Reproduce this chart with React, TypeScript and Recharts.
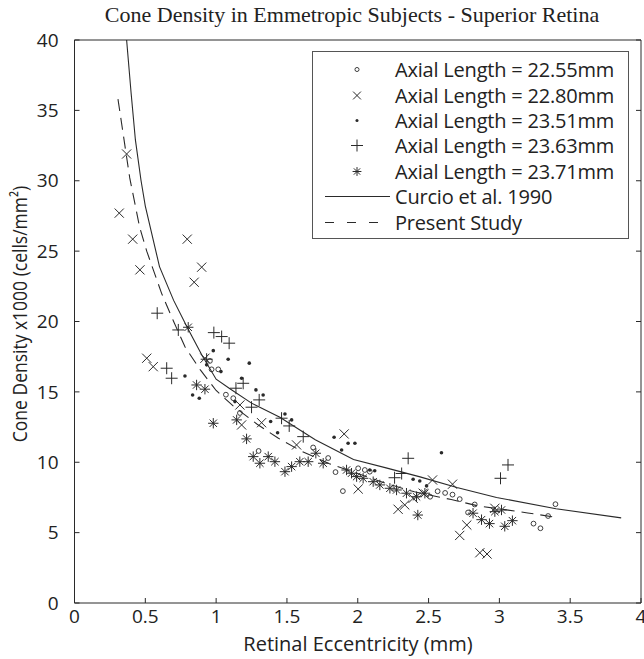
import React from 'react';
import { ScatterChart, Scatter, XAxis, YAxis, Legend } from 'recharts';

// --- data (eccentricity mm, density x1000 cells/mm²) ---
const xTicks = [0, 0.5, 1, 1.5, 2, 2.5, 3, 3.5, 4];
const yTicks = [0, 5, 10, 15, 20, 25, 30, 35, 40];

const axial2255: [number, number][] = [
  [0.956, 17.2], [0.968, 16.6], [1.015, 16.6], [1.069, 14.8], [1.121, 14.55], [1.168, 13.5],
  [1.3, 10.8], [1.685, 11.05], [1.791, 10.3], [1.843, 9.3], [1.895, 7.95], [2.003, 9.57],
  [2.05, 9.45], [2.085, 9.33], [2.511, 7.55], [2.564, 7.94], [2.617, 7.82], [2.669, 7.7],
  [2.72, 7.38], [2.779, 6.43], [2.826, 7.0], [3.241, 5.64], [3.29, 5.31], [3.344, 6.18], [3.396, 7.02],
];

const axial2280: [number, number][] = [
  [0.316, 27.7], [0.368, 31.9], [0.411, 25.85], [0.462, 23.67], [0.51, 17.39], [0.556, 16.79],
  [0.796, 25.85], [0.845, 22.79], [0.898, 23.86], [0.921, 17.39], [1.168, 14.07], [1.18, 12.65],
  [1.321, 12.81], [1.568, 11.23], [1.904, 12.01], [2.003, 8.1], [2.285, 6.66], [2.332, 6.97],
  [2.391, 7.44], [2.462, 7.8], [2.528, 8.74], [2.669, 8.44], [2.72, 4.8], [2.77, 5.54],
  [2.862, 3.57], [2.913, 3.48], [2.968, 6.73],
];

const axial2351: [number, number][] = [
  [0.78, 16.13], [0.834, 14.78], [0.881, 14.55], [0.933, 16.92], [0.98, 17.93], [1.034, 16.44],
  [1.085, 17.32], [1.133, 14.31], [1.18, 15.97], [1.234, 17.04], [1.281, 15.14], [1.332, 14.78],
  [1.385, 12.89], [1.434, 12.1], [1.486, 13.43], [1.533, 13.01], [1.833, 11.78], [1.886, 10.87],
  [1.932, 11.35], [1.98, 11.35], [2.085, 9.45], [2.12, 9.4], [2.391, 8.79], [2.438, 8.67],
  [2.486, 8.32], [2.591, 10.68],
];

const axial2363: [number, number][] = [
  [0.584, 20.59], [0.651, 16.68], [0.686, 15.97], [0.733, 19.4], [0.933, 17.32], [0.984, 19.21],
  [1.039, 18.93], [1.092, 18.46], [1.14, 15.26], [1.191, 15.61], [1.25, 13.91], [1.304, 14.43],
  [1.462, 13.13], [1.516, 12.58], [1.615, 11.82], [2.26, 8.9], [2.31, 9.2], [2.356, 10.28],
  [3.008, 8.86], [3.061, 9.81],
];

const axial2371: [number, number][] = [
  [0.803, 19.59], [0.862, 15.49], [0.921, 15.19], [0.98, 12.77], [1.145, 13.01], [1.215, 11.66],
  [1.262, 10.4], [1.309, 9.93], [1.368, 10.4], [1.415, 10.04], [1.486, 9.33], [1.533, 9.69],
  [1.591, 10.04], [1.65, 10.04], [1.704, 10.64], [1.756, 9.93], [1.921, 9.45], [1.956, 9.22],
  [1.992, 8.98], [2.038, 8.86], [2.109, 8.62], [2.156, 8.39], [2.227, 8.15], [2.274, 8.03],
  [2.344, 7.8], [2.415, 7.55], [2.424, 6.25], [2.474, 7.8], [2.814, 6.38], [2.874, 5.92],
  [2.93, 5.64], [2.968, 6.49], [3.015, 6.61], [3.038, 5.45], [3.092, 5.85],
];

const curcio1990: [number, number][] = [
  [0.368, 40], [0.4, 36.2], [0.43, 32.9], [0.47, 30], [0.5, 28.2], [0.6, 23.9], [0.7, 21.5],
  [0.8, 19.5], [0.9, 17.6], [1.0, 15.9], [1.1, 15.2], [1.25, 14.2], [1.45, 13.2], [1.7, 11.6],
  [1.97, 10.2], [2.2, 9.6], [2.44, 8.96], [2.7, 8.2], [2.98, 7.5], [3.4, 6.7], [3.86, 6.05],
];

const presentStudy: [number, number][] = [
  [0.307, 35.8], [0.39, 30.2], [0.46, 26.7], [0.51, 25.0], [0.615, 22.0], [0.7, 20.0],
  [0.78, 18.2], [0.886, 16.6], [1.0, 15.1], [1.12, 14.0], [1.29, 12.7], [1.44, 11.7],
  [1.6, 10.8], [1.8, 9.9], [2.0, 9.2], [2.2, 8.5], [2.4, 7.9], [2.66, 7.35], [2.85, 6.9],
  [3.2, 6.4], [3.39, 6.1],
];

const toPoints = (arr: [number, number][]) => arr.map(([x, y]) => ({ x, y }));

const INK = '#2a2a2a';
const SANS = '"Open Sans", "Noto Sans", sans-serif';

type Kind = 'circle' | 'cross' | 'dot' | 'plus' | 'star' | 'solid' | 'dashed';

const Marker = ({ kind, cx, cy, scale = 1 }: { kind: Kind; cx: number; cy: number; scale?: number }) => {
  const s = scale;
  switch (kind) {
    case 'circle':
      return <circle cx={cx} cy={cy} r={2.4 * s} fill="none" stroke={INK} strokeWidth={0.9} />;
    case 'dot':
      return <circle cx={cx} cy={cy} r={1.8 * s} fill={INK} />;
    case 'cross': {
      const h = 4.6 * s;
      return (
        <g stroke={INK} strokeWidth={1}>
          <line x1={cx - h} y1={cy - h} x2={cx + h} y2={cy + h} />
          <line x1={cx - h} y1={cy + h} x2={cx + h} y2={cy - h} />
        </g>
      );
    }
    case 'plus': {
      const h = 6 * s;
      return (
        <g stroke={INK} strokeWidth={1}>
          <line x1={cx - h} y1={cy} x2={cx + h} y2={cy} />
          <line x1={cx} y1={cy - h} x2={cx} y2={cy + h} />
        </g>
      );
    }
    case 'star': {
      const h = 5.2 * s;
      const d = 3.7 * s;
      return (
        <g stroke={INK} strokeWidth={1}>
          <line x1={cx - h} y1={cy} x2={cx + h} y2={cy} />
          <line x1={cx} y1={cy - h} x2={cx} y2={cy + h} />
          <line x1={cx - d} y1={cy - d} x2={cx + d} y2={cy + d} />
          <line x1={cx - d} y1={cy + d} x2={cx + d} y2={cy - d} />
        </g>
      );
    }
    default:
      return <g />;
  }
};

const legendItems: { name: string; kind: Kind }[] = [
  { name: 'Axial Length = 22.55mm', kind: 'circle' },
  { name: 'Axial Length = 22.80mm', kind: 'cross' },
  { name: 'Axial Length = 23.51mm', kind: 'dot' },
  { name: 'Axial Length = 23.63mm', kind: 'plus' },
  { name: 'Axial Length = 23.71mm', kind: 'star' },
  { name: 'Curcio et al. 1990', kind: 'solid' },
  { name: 'Present Study', kind: 'dashed' },
];

const LegendBox = () => (
  <div
    style={{
      width: 317,
      height: 188,
      border: '1px solid #555',
      background: '#fff',
      boxSizing: 'border-box',
      paddingTop: 5,
    }}
  >
    {legendItems.map((item) => (
      <div key={item.name} style={{ display: 'flex', alignItems: 'center', height: 25.4 }}>
        <svg width={82} height={25} style={{ flex: 'none' }}>
          {item.kind === 'solid' && <line x1={12} y1={12.5} x2={77} y2={12.5} stroke={INK} strokeWidth={1.1} />}
          {item.kind === 'dashed' && (
            <line x1={12} y1={12.5} x2={77} y2={12.5} stroke={INK} strokeWidth={1.1} strokeDasharray="9 13" />
          )}
          {item.kind !== 'solid' && item.kind !== 'dashed' && (
            <Marker kind={item.kind} cx={44} cy={12.5} scale={item.kind === 'plus' ? 1 : 0.85} />
          )}
        </svg>
        <span style={{ fontFamily: SANS, fontSize: 20, color: '#222', whiteSpace: 'nowrap', letterSpacing: -0.2 }}>
          {item.name}
        </span>
      </div>
    ))}
  </div>
);

const shapeFor = (kind: Kind) => (props: any) => <Marker kind={kind} cx={props.cx} cy={props.cy} />;

const tickStyle = { fill: '#222', fontSize: 19, fontFamily: SANS };

export default function App() {
  return (
    <div style={{ position: 'absolute', left: 0, top: 0, width: 644, height: 659, background: '#fff' }}>
      <ScatterChart width={644} height={659} margin={{ top: 39, right: 2, bottom: 0, left: 0 }}>
        <XAxis
          xAxisId="b"
          type="number"
          dataKey="x"
          orientation="bottom"
          domain={[0, 4]}
          ticks={xTicks}
          interval={0}
          height={56}
          tickSize={-5}
          tickMargin={12}
          stroke={INK}
          tick={tickStyle}
          allowDataOverflow
        />
        <XAxis
          xAxisId="t"
          type="number"
          orientation="top"
          domain={[0, 4]}
          ticks={xTicks}
          interval={0}
          height={1}
          tickSize={-5}
          stroke={INK}
          tickFormatter={() => ''}
          allowDataOverflow
        />
        <YAxis
          yAxisId="l"
          type="number"
          dataKey="y"
          domain={[0, 40]}
          ticks={yTicks}
          interval={0}
          width={74.5}
          tickSize={-5}
          tickMargin={21}
          stroke={INK}
          tick={tickStyle}
          allowDataOverflow
        />
        <YAxis
          yAxisId="r"
          type="number"
          orientation="right"
          domain={[0, 40]}
          ticks={yTicks}
          interval={0}
          width={1}
          tickSize={-5}
          stroke={INK}
          tickFormatter={() => ''}
          allowDataOverflow
        />
        <Legend
          layout="vertical"
          align="center"
          verticalAlign="middle"
          content={() => <LegendBox />}
          wrapperStyle={{ left: 312, top: 51, width: 317, height: 188 }}
        />
        <Scatter
          name="Curcio et al. 1990"
          xAxisId="b"
          yAxisId="l"
          data={toPoints(curcio1990)}
          line={{ stroke: INK, strokeWidth: 1.1 }}
          shape={() => <g />}
          isAnimationActive={false}
        />
        <Scatter
          name="Present Study"
          xAxisId="b"
          yAxisId="l"
          data={toPoints(presentStudy)}
          line={{ stroke: INK, strokeWidth: 1.1, strokeDasharray: '12 7' }}
          shape={() => <g />}
          isAnimationActive={false}
        />
        <Scatter name="Axial Length = 22.55mm" xAxisId="b" yAxisId="l" data={toPoints(axial2255)} shape={shapeFor('circle')} isAnimationActive={false} />
        <Scatter name="Axial Length = 22.80mm" xAxisId="b" yAxisId="l" data={toPoints(axial2280)} shape={shapeFor('cross')} isAnimationActive={false} />
        <Scatter name="Axial Length = 23.51mm" xAxisId="b" yAxisId="l" data={toPoints(axial2351)} shape={shapeFor('dot')} isAnimationActive={false} />
        <Scatter name="Axial Length = 23.63mm" xAxisId="b" yAxisId="l" data={toPoints(axial2363)} shape={shapeFor('plus')} isAnimationActive={false} />
        <Scatter name="Axial Length = 23.71mm" xAxisId="b" yAxisId="l" data={toPoints(axial2371)} shape={shapeFor('star')} isAnimationActive={false} />
      </ScatterChart>
      <svg width={644} height={659} style={{ position: 'absolute', left: 0, top: 0, pointerEvents: 'none' }}>
        <text x={352} y={22} textAnchor="middle" fontFamily='"Liberation Serif", "Times New Roman", serif' fontSize={22} fill="#222">
          Cone Density in Emmetropic Subjects - Superior Retina
        </text>
        <text x={358} y={651} textAnchor="middle" fontFamily={SANS} fontSize={20} fill="#222">
          Retinal Eccentricity (mm)
        </text>
        <text
          transform="translate(27,314) scale(1.15,1) rotate(-90)"
          textAnchor="middle"
          fontFamily={SANS}
          fontSize={17.5}
          fill="#222"
        >
          Cone Density x1000 (cells/mm²)
        </text>
      </svg>
    </div>
  );
}
